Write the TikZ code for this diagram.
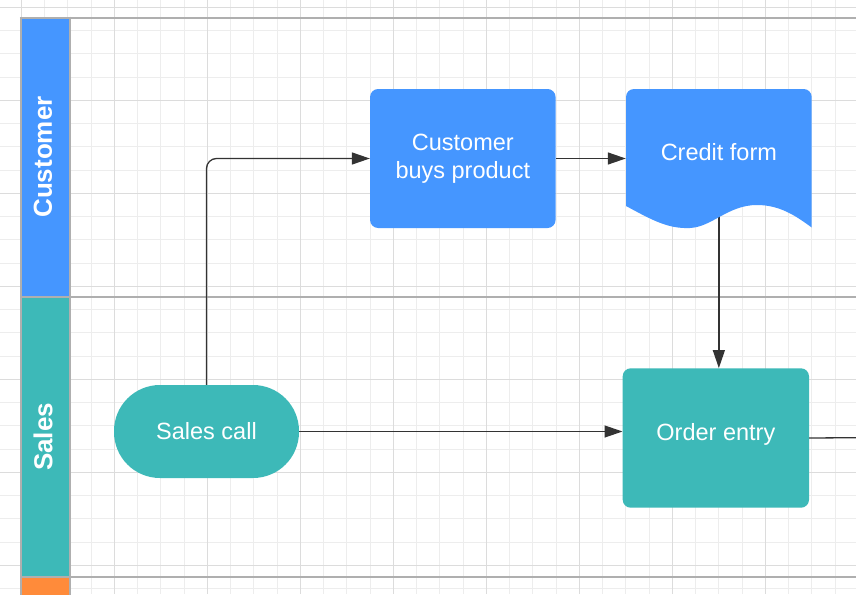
\documentclass[tikz,border=0pt]{standalone}
\usepackage{fontspec}
\setmainfont{Liberation Sans}
\usetikzlibrary{arrows.meta,calc}
\definecolor{laneblue}{HTML}{4596FF}
\definecolor{laneteal}{HTML}{3DB9B8}
\definecolor{laneorange}{HTML}{FF8B3A}
\definecolor{gridminor}{HTML}{EDEDED}
\definecolor{gridmajor}{HTML}{DCDCDC}
\definecolor{poolgray}{HTML}{AFAFAF}
\definecolor{linkdark}{HTML}{333333}
\tikzset{
  gridmin/.style={draw=gridminor,line width=1pt},
  gridmaj/.style={draw=gridmajor,line width=1.2pt},
  poolline/.style={draw=poolgray,line width=2.5pt},
  lanelabel/.style={text=white,font=\fontsize{26}{30}\selectfont\bfseries,rotate=90,inner sep=0pt},
  boxtext/.style={text=white,font=\fontsize{23.5}{28.3}\selectfont,align=center},
  procbox/.style={rectangle,rounded corners=8pt,inner sep=0pt,minimum width=185.5pt,minimum height=139pt,boxtext},
  termbox/.style={rectangle,rounded corners=46pt,inner sep=0pt,minimum width=185pt,minimum height=93pt,boxtext},
  link/.style={draw=linkdark,line width=1.3pt,-{Triangle[length=18pt,width=12pt]}},
  plainlink/.style={draw=linkdark,line width=1.3pt}
}
\begin{document}
\begin{tikzpicture}[x=1pt,y=-1pt]
\useasboundingbox (0,0) rectangle (856,594);
\clip (0,0) rectangle (856,594);
\fill[white] (0,0) rectangle (856,594);
% grid
\foreach \k in {-1,...,36} {
  \pgfmathsetmacro{\gx}{21.3+23.25*\k}
  \draw[gridmin] (\gx,0) -- (\gx,594);
}
\foreach \k in {0,...,25} {
  \pgfmathsetmacro{\gy}{7.3+23.25*\k}
  \draw[gridmin] (0,\gy) -- (856,\gy);
}
\foreach \k in {-1,...,9} {
  \pgfmathsetmacro{\gx}{21.3+93*\k}
  \draw[gridmaj] (\gx,0) -- (\gx,594);
}
\foreach \k in {0,...,6} {
  \pgfmathsetmacro{\gy}{7.3+93*\k}
  \draw[gridmaj] (0,\gy) -- (856,\gy);
}
% lane headers
\fill[laneblue] (21,18) rectangle (70,297);
\fill[laneteal] (21,297) rectangle (70,577);
\fill[laneorange] (21,577) rectangle (70,600);
\draw[poolline] (19.75,18) -- (856,18);
\draw[poolline] (20,297) -- (856,297);
\draw[poolline] (20,577) -- (856,577);
\draw[poolline] (21,16.75) -- (21,600);
\draw[poolline] (70,16.75) -- (70,600);
\node[lanelabel] (lanecust) at (43,157) {Customer};
\node[lanelabel] (lanesales) at (43,437) {Sales};
% node placeholders (positions)
\coordinate (rightedge) at (856,437.7);
\node[procbox] (buy) at (462.8,158.5) {};
\node[rectangle,inner sep=0pt,minimum width=185.7pt,minimum height=139pt] (credit) at (718.85,158.5) {};
\node[termbox] (sales) at (206.5,431.5) {};
\node[procbox,minimum width=186.3pt,minimum height=139.4pt] (order) at (715.85,438) {};
% connectors
\draw[link,rounded corners=10pt] (sales.north) |- (buy.west);
\draw[link] (buy.east) -- (credit.west);
\draw[link] (credit.center) -- (credit.center |- order.north);
\draw[link] (sales.east) -- (sales.east -| order.west);
\draw[plainlink] (order.east) -- (rightedge);
% shapes
\node[procbox,fill=laneblue] at (buy) {Customer\\buys product};
\fill[laneblue] (626,206) [rounded corners=8pt] -- (626,89) -- (811.7,89) [sharp corners] -- (811.7,227.5)
  .. controls (796,216) and (780,205) .. (757,205)
  .. controls (728,205) and (712,227) .. (690,228)
  .. controls (668,229) and (652,220) .. (626,206) -- cycle;
\node[boxtext] (credittext) at (718.85,152) {Credit form};
\node[termbox,fill=laneteal] at (sales) {Sales call};
\node[procbox,fill=laneteal,minimum width=186.3pt,minimum height=139.4pt] at (order) {};
\node[boxtext] (ordertext) at (715.85,434) {Order entry};
\end{tikzpicture}
\end{document}
